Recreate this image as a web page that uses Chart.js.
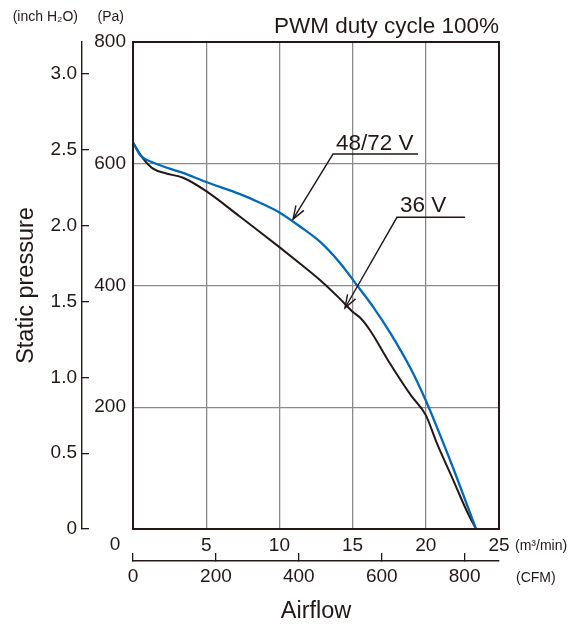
<!DOCTYPE html>
<html>
<head>
<meta charset="utf-8">
<script src="https://cdn.jsdelivr.net/npm/chart.js@4.4.0/dist/chart.umd.min.js"></script>
<style>
  html, body { margin: 0; padding: 0; background: #fff; }
</style>
</head>
<body>
<canvas id="myChart" width="577" height="630"></canvas>
<script>
// airflow in m3/min, static pressure in Pa
const airflow72 = [0, 0.5, 1.37, 3.42, 5, 7.31, 8.67, 10, 11.4, 12.77, 14.14, 15.28, 16.4, 17.55, 19, 20, 21, 22, 23.43];
const pressure72 = [635, 614, 602, 585, 570, 550, 536, 520, 497, 472, 437, 401, 365, 323, 262, 211, 153, 92, 0];
const airflow36 = [0, 0.68, 1.37, 2.28, 3.42, 5, 7.31, 8.67, 10, 11.4, 12.77, 14.14, 15, 15.6, 16.2, 17.5, 19, 20, 20.74, 21.88, 22.79, 23.43];
const pressure36 = [635, 609, 592, 584, 577, 555, 513, 488, 463, 436, 409, 378, 357, 345, 326, 274, 219, 187, 142, 80, 30, 0];

const flowMax = 25;       // m3/min
const pressureMax = 800;  // Pa
const PA_PER_INCH = 249.089;
const CFM_PER_M3MIN = 35.3147;

const ink = '#231815';
const blue = '#0068b7';
const gridGray = '#8a8a8a';
const sans = '"Liberation Sans", Arial, sans-serif';

const toPoints = (xs, ys) => xs.map((x, i) => ({ x: x, y: ys[i] }));

// label + arrow notes, in data units (m3/min, Pa)
const notes = [
  { text: '48/72 V', textAt: [13.87, 623], lineFrom: [13.66, 616], lineTo: [19.47, 616], tip: [10.93, 509] },
  { text: '36 V', textAt: [18.24, 521], lineFrom: [18.03, 512], lineTo: [22.68, 512], tip: [14.48, 363] }
];

const extras = {
  id: 'extras',
  afterDraw(chart) {
    const c = chart.ctx;
    const a = chart.chartArea;
    const sx = chart.scales.x, sy = chart.scales.y, sy2 = chart.scales.y2;
    c.save();
    // plot frame
    c.strokeStyle = ink;
    c.lineWidth = 2;
    c.strokeRect(a.left, a.top, a.right - a.left, a.bottom - a.top);

    c.fillStyle = ink;
    c.font = '22.5px ' + sans;
    c.textAlign = 'right';
    c.textBaseline = 'alphabetic';
    c.fillText('PWM duty cycle 100%', a.right, a.top - 9);

    c.font = '14px ' + sans;
    c.textBaseline = 'middle';
    c.fillText('(inch H\u2082O)', sy2.right - 4, 17);
    c.fillText('(Pa)', a.left - 9, 17);

    // shared zero of the airflow axis
    c.font = '19px ' + sans;
    c.textAlign = 'center';
    c.fillText('0', sx.getPixelForValue(0) - 18, a.bottom + 16);

    c.font = '14px ' + sans;
    c.textAlign = 'left';
    c.fillText('(m\u00b3/min)', a.right + 16, a.bottom + 17);
    c.fillText('(CFM)', a.right + 17, a.bottom + 49);

    // curve labels with arrows
    c.lineWidth = 1.4;
    c.strokeStyle = ink;
    notes.forEach(n => {
      const px = p => [sx.getPixelForValue(p[0]), sy.getPixelForValue(p[1])];
      const t = px(n.textAt), f = px(n.lineFrom), e = px(n.lineTo), tip = px(n.tip);
      c.font = '22.5px ' + sans;
      c.textAlign = 'left';
      c.textBaseline = 'alphabetic';
      c.fillText(n.text, t[0], t[1]);
      c.beginPath();
      c.moveTo(e[0], e[1]);
      c.lineTo(f[0], f[1]);
      c.lineTo(tip[0], tip[1]);
      c.stroke();
      const ang = Math.atan2(tip[1] - f[1], tip[0] - f[0]);
      const len = 14, spread = 0.34;
      c.beginPath();
      c.moveTo(tip[0] - len * Math.cos(ang - spread), tip[1] - len * Math.sin(ang - spread));
      c.lineTo(tip[0], tip[1]);
      c.lineTo(tip[0] - len * Math.cos(ang + spread), tip[1] - len * Math.sin(ang + spread));
      c.stroke();
    });
    c.restore();
  }
};

const ctx = document.getElementById('myChart');

new Chart(ctx, {
  type: 'line',
  data: {
    datasets: [
      {
        label: '48/72 V',
        data: toPoints(airflow72, pressure72),
        borderColor: blue,
        borderWidth: 2.3,
        pointRadius: 0,
        cubicInterpolationMode: 'monotone',
        xAxisID: 'x',
        yAxisID: 'y'
      },
      {
        label: '36 V',
        data: toPoints(airflow36, pressure36),
        borderColor: ink,
        borderWidth: 2,
        pointRadius: 0,
        cubicInterpolationMode: 'monotone',
        xAxisID: 'x',
        yAxisID: 'y'
      }
    ]
  },
  options: {
    responsive: false,
    animation: false,
    devicePixelRatio: 1,
    layout: { padding: { top: 42, right: 78, bottom: 0, left: 0 } },
    plugins: {
      legend: { display: false },
      tooltip: { enabled: false }
    },
    scales: {
      x: {
        type: 'linear',
        position: 'bottom',
        min: 0,
        max: flowMax,
        afterFit: s => { s.height = 32; },
        ticks: {
          stepSize: 5,
          padding: 5,
          color: ink,
          font: { family: sans, size: 19 },
          callback: v => (v === 0 ? '' : v)
        },
        grid: { color: gridGray, lineWidth: 1.3, drawTicks: false },
        border: { color: ink, width: 2 }
      },
      x2: {
        type: 'linear',
        position: 'bottom',
        min: 0,
        max: flowMax * CFM_PER_M3MIN,
        afterFit: s => { s.height = 69; },
        ticks: {
          stepSize: 200,
          includeBounds: false,
          padding: 12,
          color: ink,
          font: { family: sans, size: 19 }
        },
        grid: { drawOnChartArea: false, drawTicks: true, tickLength: -8, color: ink, lineWidth: 1.3 },
        border: { color: ink, width: 1.4 },
        title: {
          display: true,
          text: 'Airflow',
          color: ink,
          font: { family: sans, size: 23.5 },
          padding: { top: 0, bottom: 4 }
        }
      },
      y: {
        type: 'linear',
        position: 'left',
        min: 0,
        max: pressureMax,
        afterFit: s => { s.width = 51; },
        ticks: {
          stepSize: 200,
          padding: 7,
          color: ink,
          font: { family: sans, size: 19 },
          callback: v => (v === 0 ? '' : v)
        },
        grid: { color: gridGray, lineWidth: 1.3, drawTicks: false },
        border: { color: ink, width: 2 }
      },
      y2: {
        type: 'linear',
        position: 'left',
        min: 0,
        max: pressureMax / PA_PER_INCH,
        afterFit: s => { s.width = 82; },
        ticks: {
          stepSize: 0.5,
          includeBounds: false,
          padding: 12,
          color: ink,
          font: { family: sans, size: 19 },
          callback: v => (v === 0 ? '0' : v.toFixed(1))
        },
        grid: { drawOnChartArea: false, drawTicks: true, tickLength: -7, color: ink, lineWidth: 1.3 },
        border: { color: ink, width: 1.4 },
        title: {
          display: true,
          text: 'Static pressure',
          color: ink,
          font: { family: sans, size: 23.5 },
          padding: { top: 12, bottom: 0 }
        }
      }
    }
  },
  plugins: [extras]
});
</script>
</body>
</html>
